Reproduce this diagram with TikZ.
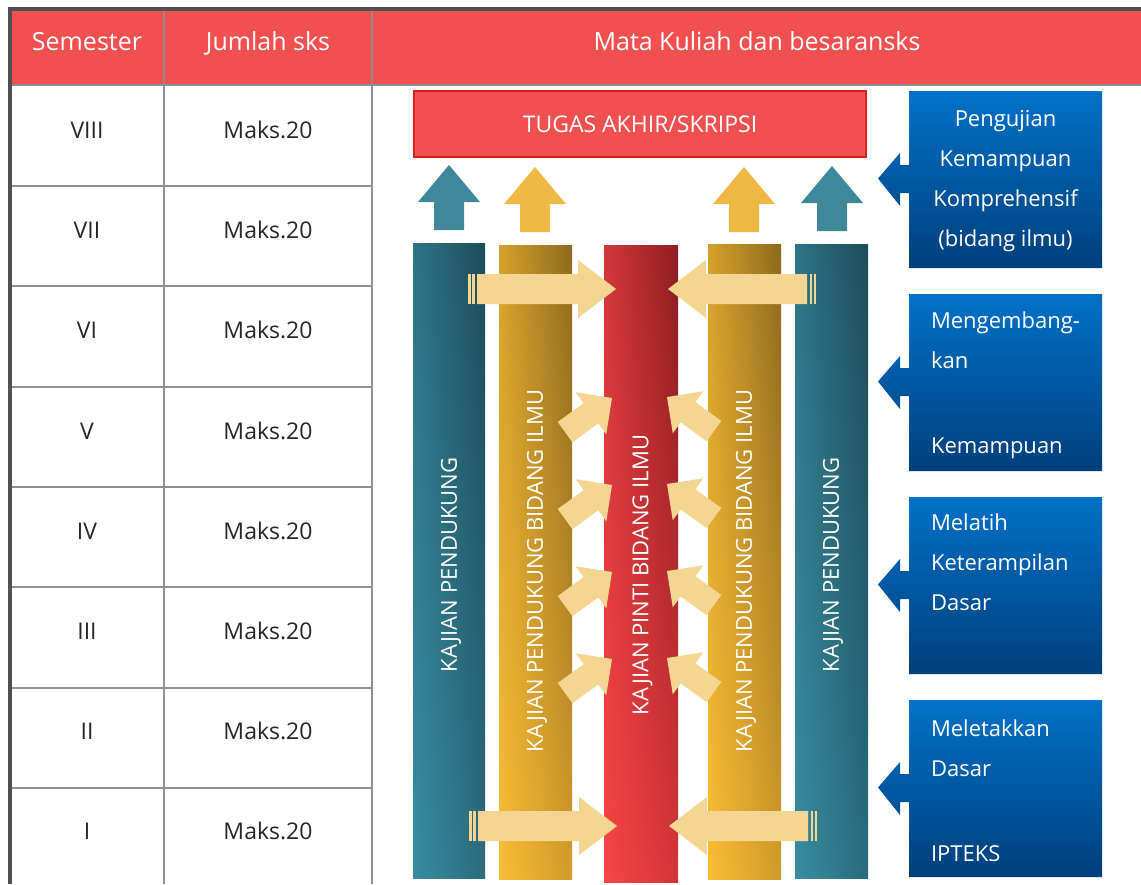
\documentclass[tikz,border=0pt]{standalone}
\usepackage{fontspec}
\setmainfont{Open Sans}
\usetikzlibrary{shadings}
% palette
\definecolor{hdrred}{HTML}{F05050}
\definecolor{taline}{HTML}{DF1F1F}
\definecolor{gridgray}{HTML}{8F8F8F}
\definecolor{framegray}{HTML}{505050}
\definecolor{celltxt}{HTML}{262626}
\definecolor{tealup}{HTML}{3F8799}
\definecolor{yellowup}{HTML}{EFB946}
\definecolor{arrowtan}{HTML}{F5D592}
\definecolor{bluetop}{HTML}{0071C7}
\definecolor{bluebot}{HTML}{003F7B}
% bar gradients: upper-left / upper-right / lower-left / lower-right
\definecolor{tealA}{HTML}{2F7586}\definecolor{tealB}{HTML}{1E4C59}
\definecolor{tealC}{HTML}{388CA0}\definecolor{tealD}{HTML}{2B6B7B}
\definecolor{yelA}{HTML}{D6A12C}\definecolor{yelB}{HTML}{8D691E}
\definecolor{yelC}{HTML}{F8BD36}\definecolor{yelD}{HTML}{D09A2B}
\definecolor{redA}{HTML}{D2383A}\definecolor{redB}{HTML}{8D1D22}
\definecolor{redC}{HTML}{F84545}\definecolor{redD}{HTML}{D23538}
\begin{document}
\begin{tikzpicture}[x=1pt,y=-1pt,
  txt/.style={inner sep=0pt, outer sep=0pt},
  hdrtext/.style={txt, anchor=base, text=white, font=\fontsize{25}{28}\selectfont},
  celltext/.style={txt, text=celltxt, font=\fontsize{23}{28}\selectfont},
  bartext/.style={txt, text=white, rotate=90, font=\fontsize{22}{26}\selectfont},
  boxtext/.style={txt, text=white, font=\fontsize{22}{40}\selectfont},
  gridline/.style={draw=gridgray, line width=2pt},
  tealbar/.style={upper left=tealA, upper right=tealB, lower left=tealC, lower right=tealD},
  yelbar/.style={upper left=yelA, upper right=yelB, lower left=yelC, lower right=yelD},
  redbar/.style={upper left=redA, upper right=redB, lower left=redC, lower right=redD},
  pics/uparr/.style={code={
    \fill[#1] (-31,0) -- (0,-37) -- (31,0) -- (15,0) -- (15,28) -- (-15,28) -- (-15,0) -- cycle;}},
  pics/bigarr/.style={code={
    \fill[arrowtan] (0,0) -- (-38,-29) -- (-38,-15) -- (-139,-15) -- (-139,15) -- (-38,15) -- (-38,29) -- cycle;
    \fill[arrowtan] (-148,-15) rectangle (-145.5,15);
    \fill[arrowtan] (-144,-15) rectangle (-141.5,15);}},
  pics/smallarr/.style={code={
    \fill[arrowtan] (0,0) -- (-26,-26) -- (-26,-12.5) -- (-58,-12.5) -- (-58,12.5) -- (-26,12.5) -- (-26,26) -- cycle;}},
]
\useasboundingbox (0,0) rectangle (1141,884);

% ---------- table ----------
\fill[hdrred] (10,9) rectangle (1141,85);
\draw[gridline] (10,85) -- (1141,85);
\draw[gridline] (164,9) -- (164,884);
\draw[gridline] (372,9) -- (372,884);
\foreach \y in {186,286,387,487,587,688,788}
  \draw[gridline] (10,\y) -- (372,\y);
\draw[framegray, line width=4pt] (10,884) -- (10,9) -- (1141,9);

\node[hdrtext] (hsem) at (87,50.5) {Semester};
\node[hdrtext] (hsks) at (268,50.5) {Jumlah sks};
\node[hdrtext] (hmk)  at (757,50.5) {Mata Kuliah dan besaransks};

\foreach \r/\lab/\y in {8/VIII/130,7/VII/230,6/VI/330,5/V/431,4/IV/531,3/III/631,2/II/731,1/I/831}{
  \node[celltext] (sem\r) at (87,\y) {\lab};
  \node[celltext] (sks\r) at (268,\y) {Maks.20};
}

% ---------- final project box ----------
\node[txt, fill=hdrred, draw=taline, line width=2pt, minimum width=452pt, minimum height=66pt,
      text=white, font=\fontsize{23}{28}\selectfont] (ta) at (640,124) {TUGAS AKHIR/SKRIPSI};

% ---------- upward arrows ----------
\pic at (449,202) {uparr=tealup};
\pic at (535,204) {uparr=yellowup};
\pic at (744,204) {uparr=yellowup};
\pic at (832,203) {uparr=tealup};

% ---------- study columns ----------
\shade[tealbar] (413,243) rectangle (485,878);
\shade[yelbar]  (499,245) rectangle (572,879);
\shade[redbar]  (604,245) rectangle (678,882);
\shade[yelbar]  (708,244) rectangle (781,879);
\shade[tealbar] (795,244) rectangle (868,878);

\node[bartext] (kp1)  at (451,565) {KAJIAN PENDUKUNG};
\node[bartext] (kpb1) at (537,571) {KAJIAN PENDUKUNG BIDANG ILMU};
\node[bartext] (kpi)  at (642.5,575) {KAJIAN PINTI BIDANG ILMU};
\node[bartext] (kpb2) at (746,571) {KAJIAN PENDUKUNG BIDANG ILMU};
\node[bartext] (kp2)  at (833,565) {KAJIAN PENDUKUNG};

% ---------- horizontal arrows into the core ----------
\pic at (616,289) {bigarr};
\pic[xscale=-1] at (668,289) {bigarr};
\pic at (617,826) {bigarr};
\pic[xscale=-1] at (669,826) {bigarr};

% ---------- diagonal arrows into the core ----------
\foreach \ty in {398,485,572,659}{
  \pic[rotate=36] at (612,\ty) {smallarr};
  \pic[xscale=-1, rotate=36] at (667,\ty-1) {smallarr};
}

% ---------- competence boxes ----------
\foreach \t in {91,294,497,700}
  \shade[top color=bluetop, bottom color=bluebot]
    (909,\t) -- (1102,\t) -- (1102,\t+177) -- (909,\t+177) -- (909,\t+102) -- (900,\t+102)
    -- (900,\t+115) -- (878,\t+87.5) -- (900,\t+62) -- (900,\t+74) -- (909,\t+74) -- cycle;

\node[boxtext, align=center, anchor=north] (b1) at (1005.5,110)
  {Pengujian\\Kemampuan\\Komprehensif\\(bidang ilmu)};
\node[boxtext, align=left, anchor=north west] (b2) at (931,312)
  {Mengembang-\\kan\\[45pt]Kemampuan};
\node[boxtext, align=left, anchor=north west] (b3) at (931,514)
  {Melatih\\Keterampilan\\Dasar};
\node[boxtext, align=left, anchor=north west] (b4) at (931,720)
  {Meletakkan\\Dasar\\[45pt]IPTEKS};
\end{tikzpicture}
\end{document}
